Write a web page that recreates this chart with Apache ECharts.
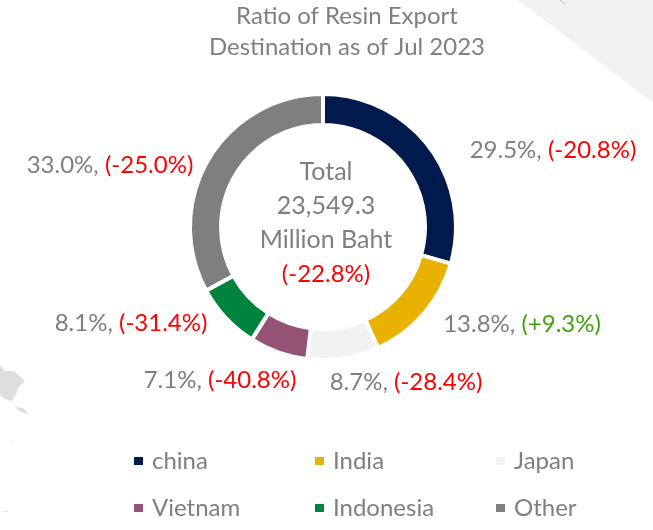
<!DOCTYPE html>
<html><head><meta charset="utf-8">
<style>html,body{margin:0;padding:0;background:#fff}#c{width:653px;height:530px}</style>
<script src="https://cdn.jsdelivr.net/npm/echarts@6/dist/echarts.min.js"></script>
</head><body><div id="c"></div>
<script>
const categories = ['china','India','Japan','Vietnam','Indonesia','Other'];
const shares = [29.5,13.8,8.7,7.1,8.1,33.0];
const changes = [-20.8,9.3,-28.4,-40.8,-31.4,-25.0];
const colors = ['#001a4d','#e9b200','#f2f2f2','#945274','#00843d','#7f7f7f'];
const totalValue = '23,549.3';
const totalChange = -22.8;

const FONT = 'Lato';
const GREY = '#7f7f7f';
const FS = 24;
const labelSpots = [[553,150],[522,324],[406,382],[220,380],[131,323],[110,165]];
const legendSpots = [[132,449],[313,449],[494,449],[132,496],[313,496],[494,496]];
const fmt = v => '(' + (v>0?'+':'') + v.toFixed(1) + '%)';

const chart = echarts.init(document.getElementById('c'), null, {renderer:'canvas'});
chart.setOption({
  animation:false,
  backgroundColor:'#fff',
  title:[
    {text:'Ratio of Resin Export\nDestination as of Jul 2023',left:347,top:1,textAlign:'center',padding:0,
     textStyle:{fontFamily:FONT,fontSize:FS,fontWeight:'normal',color:GREY,lineHeight:31}},
    {text:'Total\n'+totalValue+'\nMillion Baht\n{r|'+fmt(totalChange)+'}',left:326,top:155,textAlign:'center',padding:0,
     textStyle:{fontFamily:FONT,fontSize:25,fontWeight:'normal',color:GREY,lineHeight:34,
       rich:{r:{fontFamily:FONT,fontSize:FS,color:'#ff0000',lineHeight:34}}}}
  ],
  legend: categories.map((n,i)=>({
    data:[n],left:legendSpots[i][0],top:legendSpots[i][1],icon:'rect',itemWidth:11,itemHeight:10,itemGap:0,padding:0,
    selectedMode:false,
    textStyle:{fontFamily:FONT,fontSize:FS,color:GREY,padding:[0,0,0,3]}
  })),
  graphic:[
    {type:'polygon',z:-10,silent:true,shape:{points:[[518,0],[653,0],[653,103]]},style:{fill:'#f2f2f2'}},
    {type:'line',z:-9,silent:true,shape:{x1:560,y1:0,x2:565,y2:4},style:{stroke:'#bfbfbf',lineWidth:1}},
    {type:'polygon',z:-10,silent:true,shape:{points:[[0,365],[5,371],[14,371],[25,381],[18,388],[16,394],[12,401],[5,399],[0,395]]},style:{fill:'#dedede'}},
    {type:'polygon',z:-10,silent:true,shape:{points:[[16,407],[23,408],[28,413],[27,414],[19,411]]},style:{fill:'#dedede'}},
    {type:'rect',z:-10,silent:true,shape:{x:11,y:440,width:2,height:1},style:{fill:'#eeeeee'}},
    {type:'rect',z:-10,silent:true,shape:{x:3,y:511,width:5,height:1},style:{fill:'#e6e6e6'}}
  ],
  series:[{
    type:'pie',
    radius:[102,133],
    center:[323,227],
    startAngle:90,
    clockwise:true,
    itemStyle:{borderColor:'#fff',borderWidth:4},
    emphasis:{disabled:true},
    labelLine:{show:false},
    label:{
      show:true,position:'outside',overflow:'none',
      fontFamily:FONT,fontSize:FS,color:GREY,
      formatter:p=>shares[p.dataIndex].toFixed(1)+'%, {'+(changes[p.dataIndex]>0?'g':'r')+'|'+fmt(changes[p.dataIndex])+'}',
      rich:{
        r:{fontFamily:FONT,fontSize:FS,color:'#ff0000'},
        g:{fontFamily:FONT,fontSize:FS,color:'#3fa30f'}
      }
    },
    labelLayout:p=>({x:labelSpots[p.dataIndex][0],y:labelSpots[p.dataIndex][1],align:'center',verticalAlign:'middle',hideOverlap:false}),
    data:categories.map((n,i)=>({name:n,value:shares[i],itemStyle:{color:colors[i]}}))
  }]
});
</script></body></html>
